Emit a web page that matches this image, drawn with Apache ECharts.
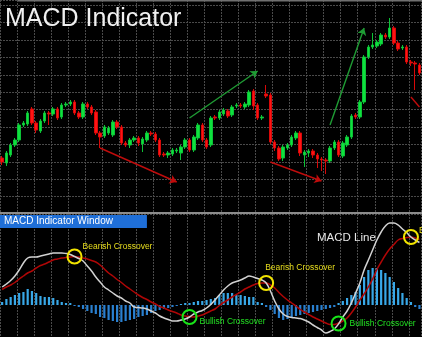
<!DOCTYPE html>
<html>
<head>
<meta charset="utf-8">
<script src="https://cdn.jsdelivr.net/npm/echarts/dist/echarts.min.js"></script>
<style>
  html, body { margin: 0; padding: 0; background: #000; }
  #chart { width: 422px; height: 337px; }
</style>
</head>
<body>
<div id="chart"></div>
<script>
// Price candles (open / close / low / high), one entry per bar
const candleOpen  = [56,51,59,69,74,89,90,105,91,83,93,101,100,105,97,109,110,112,101,97,110,107,102,81,78,81,79,92,87,71,69,74,76,70,74,81,80,74,60,59,60,63,61,67,74,64,76,89,74,69,97,96,100,103,99,108,109,107,109,123,109,96,120,119,72,66,56,66,69,76,81,59,61,63,59,55,54,53,66,72,58,69,77,99,97,112,157,167,168,170,179,177,186,171,166,167,152,151,149];
const candleClose = [52,61,69,74,89,91,101,91,84,93,101,100,105,96,109,110,112,101,97,110,107,101,81,77,87,86,92,87,71,69,74,76,71,75,81,80,74,59,59,61,64,64,67,74,64,77,89,74,67,96,96,102,104,98,107,109,108,110,122,108,96,97,118,72,66,55,67,69,77,81,61,62,63,59,55,54,53,66,72,59,71,77,98,97,112,157,167,169,172,179,177,186,171,165,167,152,151,150,141];
const candleLow   = [49,48,57,67,72,87,88,89,81,81,91,89,98,94,95,107,108,99,95,95,105,99,79,66,76,79,77,85,69,67,66,72,68,62,72,78,72,57,57,56,58,61,54,65,62,62,74,72,65,67,94,94,98,96,97,106,106,105,107,104,94,94,116,70,63,53,53,64,67,74,58,47,57,56,46,43,40,51,64,57,56,67,75,95,95,110,155,165,166,168,175,175,169,163,164,150,148,124,139];
const candleHigh  = [58,63,71,76,91,93,103,107,93,95,103,103,107,107,111,112,114,114,103,112,112,109,104,83,89,88,94,94,89,73,76,78,78,77,83,83,82,76,62,63,66,66,69,76,76,79,91,91,76,98,99,104,106,105,109,111,111,112,124,125,111,99,129,121,74,68,69,71,79,83,83,64,65,65,61,57,56,68,74,74,73,79,100,101,114,159,169,181,174,181,181,196,188,173,169,169,154,153,151];

// MACD panel: MACD line, signal line and histogram
const macdLine   = [18,21,24.5,29,35,42,47,48,48,49,50,51,52,52,52,51.5,50.5,48.5,46.5,44,39,34,28,23,18,15,12,9,7,4,2,-2,-2.5,-3,-4,-6,-8,-11,-13,-14.5,-16,-16,-15,-14,-12,-9,-7,-5.5,-3,0.5,5,10,15,19,22,23.5,25,27,29,28,26.5,25,22,14,4,-4,-9,-11.5,-12.5,-13,-13.5,-15,-17,-20,-22.5,-25,-28,-26.5,-24,-19,-12,-6,2,12,22,35,45,55,65,73,79,82,82,80,76,72.5,68,65,62.5];
const signalLine = [15.5,18,20,22.5,26,29,32,34,37,39.5,41,43,45,46,47,47.5,48,48.5,48,47,46,44.5,43,40,36,32,29,25.5,22.5,19,16,13,10,7.5,5.5,3,1,-1.5,-3,-5,-6.5,-8,-10,-11,-11.5,-12,-11,-10,-8,-6,-4,-0.5,2.5,5,8,10.5,13,16,18,20,21.5,22,22,20,17,12.5,8.5,5,2,-1,-4.5,-7,-9.5,-12,-14,-16,-18,-19.5,-19.5,-18,-16,-13,-8,-2,5,11,18,26,35.5,43,50,56,60.5,65,66.5,67.5,68,67,65.5];
const histogram  = [3,6,8,10,12,13,16,14,12,9,8,8,7,5,3,2,2,-1,-2,-4,-6,-8,-9,-12,-13,-15,-16,-17,-17,-16,-15,-14,-12,-11,-10,-8,-6,-5,-4,-3,-2,-1,1,2,2,3,4,4,5,6,7,10,12,12,12,10,10,9,8,8,3,2,-2,-5,-9,-13,-15,-14,-12,-11,-10,-9,-8,-7,-6,-5,-4,-3,-2,2,4,7,10,13,20,28,35,37,37,35,32,28,23,17,12,7,3,-2,-4];

// Trend arrows on the price panel: [bar, price] -> [bar, price]
const trendArrows = [
  { from: [23, 66], to: [41, 32], color: '#c00c0c', head: true },
  { from: [63, 52], to: [75, 33], color: '#c00c0c', head: true },
  { from: [96, 117], to: [98, 107], color: '#c00c0c', head: false },
  { from: [44, 96], to: [60, 143], color: '#1f9c34', head: true },
  { from: [77, 89], to: [85, 186], color: '#1f9c34', head: true }
];

// Crossover markers on the MACD line: [bar, value, kind]
const crossovers = [
  [17, 48.5, 'bear'],
  [44, -12, 'bull'],
  [62, 22, 'bear'],
  [79, -18.5, 'bull'],
  [96, 68, 'bear']
];
const crossoverLabelPos = [[16, -2], [18, 13], [7, -7], [19, 8], [16, 1.5]];

const FONT = 'Liberation Sans, Arial, Helvetica, sans-serif';
const bars = candleOpen.map((_, i) => String(i + 1));
const ohlc = candleOpen.map((o, i) => [o, candleClose[i], candleLow[i], candleHigh[i]]);

const gridLine = { show: true, lineStyle: { color: '#4a4a4a', width: 1, type: [2, 1] } };

const chart = echarts.init(document.getElementById('chart'), null, { renderer: 'canvas' });

chart.setOption({
  backgroundColor: '#000000',
  animation: false,
  title: [
    {
      text: 'MACD Indicator', left: 5, top: 7, padding: 0,
      textStyle: { color: '#f0f0f0', fontSize: 25, fontWeight: 'normal', fontFamily: FONT }
    },
    {
      text: 'MACD Indicator Window', left: 0, top: 215, padding: [1, 34, 1, 4],
      backgroundColor: '#1f6fd8',
      textStyle: { color: '#ffffff', fontSize: 10, lineHeight: 11, fontWeight: 'normal', fontFamily: FONT }
    }
  ],
  grid: [
    { left: -1.135, width: 422.73, top: 0, height: 214 },
    { left: -1.135, width: 422.73, top: 214, height: 123 }
  ],
  xAxis: [
    {
      type: 'category', gridIndex: 0, data: bars, boundaryGap: true,
      axisLine: { show: false }, axisTick: { show: false }, axisLabel: { show: false },
      splitLine: Object.assign({ interval: 3 }, gridLine)
    },
    {
      type: 'category', gridIndex: 1, data: bars, boundaryGap: true,
      axisLine: { show: false }, axisTick: { show: false }, axisLabel: { show: false },
      splitLine: Object.assign({ interval: 3 }, gridLine)
    }
  ],
  yAxis: [
    {
      type: 'value', gridIndex: 0, min: 0, max: 214, interval: 17.4,
      axisLine: { show: false }, axisTick: { show: false }, axisLabel: { show: false },
      splitLine: gridLine
    },
    {
      type: 'value', gridIndex: 1, min: -32, max: 91,
      axisLine: { show: false }, axisTick: { show: false }, axisLabel: { show: false },
      splitLine: { show: false }
    }
  ],
  series: [
    {
      name: 'Price', type: 'candlestick', xAxisIndex: 0, yAxisIndex: 0,
      data: ohlc, barWidth: 3,
      itemStyle: {
        color: '#0ee23e', color0: '#ff1414',
        borderColor: '#0cc236', borderColor0: '#d80808', borderWidth: 1
      },
      markLine: {
        silent: true,
        label: { show: false },
        symbolSize: 7,
        lineStyle: { type: 'solid', width: 1.4 },
        data: trendArrows.map(a => [
          { coord: a.from, symbol: 'none', lineStyle: { color: a.color, type: 'solid', width: 1.4 } },
          { coord: a.to, symbol: a.head ? 'arrow' : 'none', lineStyle: { color: a.color, type: 'solid', width: 1.4 } }
        ])
      }
    },
    {
      name: 'Histogram', type: 'bar', xAxisIndex: 1, yAxisIndex: 1,
      data: histogram, barWidth: 2.2,
      itemStyle: { color: p => (p.value >= 0 ? '#38a8e8' : '#2a80d0') }
    },
    {
      name: 'Signal', type: 'line', xAxisIndex: 1, yAxisIndex: 1,
      data: signalLine, symbol: 'none', smooth: 0.4,
      lineStyle: { color: '#b00606', width: 1.5 }
    },
    {
      name: 'MACD', type: 'line', xAxisIndex: 1, yAxisIndex: 1,
      data: macdLine, symbol: 'none', smooth: 0.4,
      lineStyle: { color: '#d2d2d2', width: 1.5 },
      markPoint: {
        silent: true,
        symbol: 'circle',
        symbolSize: 14,
        label: { show: true, fontFamily: FONT, fontSize: 8.5 },
        data: crossovers.map((c, k) => {
          const bear = c[2] === 'bear';
          return {
            coord: [c[0], c[1]],
            itemStyle: { color: 'rgba(0,0,0,0)', borderColor: bear ? '#f2e400' : '#18e418', borderWidth: 2 },
            label: {
              show: true,
              formatter: bear ? 'Bearish Crossover' : 'Bullish Crossover',
              position: crossoverLabelPos[k], align: 'left', verticalAlign: 'middle',
              color: bear ? '#e9df1e' : '#22e022', fontSize: 8.5, fontFamily: FONT
            }
          };
        })
      }
    }
  ],
  graphic: [
    { type: 'rect', z: 50, shape: { x: 18, y: 0, width: 404, height: 1.5 }, style: { fill: '#707070' } },
    { type: 'rect', z: 50, shape: { x: 0, y: 212, width: 422, height: 2 }, style: { fill: '#8c8c8c' } },
    {
      type: 'text', z: 50,
      style: { x: 317, y: 238, text: 'MACD Line', fill: '#e6e6e6', font: '11.5px ' + FONT, verticalAlign: 'middle' }
    }
  ]
});
</script>
</body>
</html>
